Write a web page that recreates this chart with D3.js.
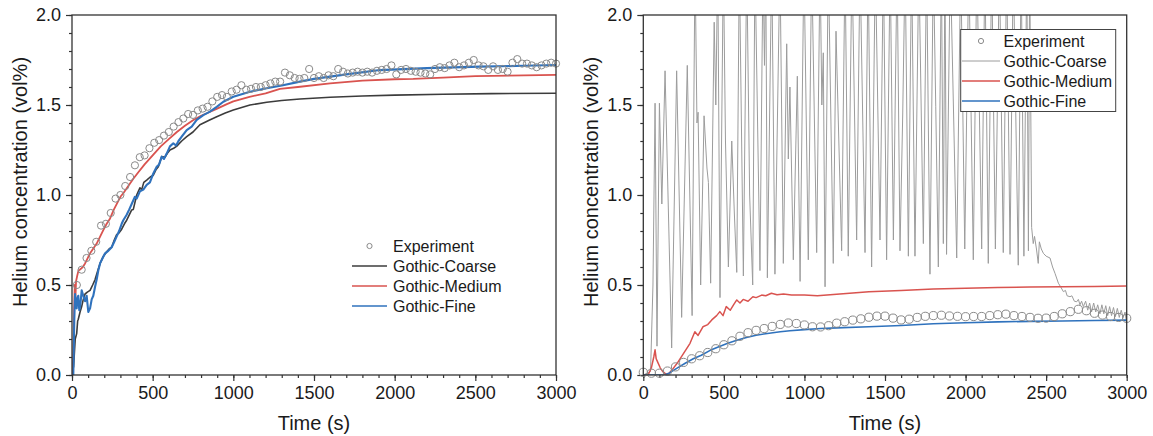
<!DOCTYPE html>
<html><head><meta charset="utf-8">
<script src="https://cdn.jsdelivr.net/npm/d3@7"></script>
<style>
body{margin:0;background:#fff}
svg text{font-family:"Liberation Sans",Arial,Helvetica,sans-serif;fill:#1a1a1a}
</style>
</head><body>
<svg id="chart" width="1153" height="436"></svg>
<script>
// ---------- DATA ----------
const xTicks = [0, 500, 1000, 1500, 2000, 2500, 3000];
const yTicks = [0.0, 0.5, 1.0, 1.5, 2.0];
const seriesNames = ["Experiment", "Gothic-Coarse", "Gothic-Medium", "Gothic-Fine"];
const yTitle = "Helium concentration (vol%)";
const xTitle = "Time (s)";

// Left panel
const leftExperiment = [[30,0.50],[60,0.585],[90,0.65],[120,0.69],[150,0.74],[180,0.83],[210,0.84],[240,0.90],[270,0.98],[300,1.00],[330,1.05],[360,1.10],[390,1.165],[420,1.21],[450,1.22],[480,1.26],[510,1.29],[540,1.305],[570,1.33],[600,1.35],[630,1.38],[660,1.405],[690,1.425],[720,1.45],[750,1.445],[780,1.47],[810,1.48],[840,1.49],[870,1.52],[900,1.545],[930,1.555],[960,1.545],[990,1.575],[1020,1.585],[1050,1.61],[1080,1.585],[1110,1.59],[1140,1.60],[1170,1.60],[1200,1.61],[1230,1.62],[1260,1.63],[1290,1.63],[1320,1.68],[1350,1.665],[1380,1.65],[1410,1.645],[1440,1.65],[1470,1.70],[1500,1.65],[1530,1.66],[1560,1.65],[1590,1.665],[1620,1.66],[1650,1.70],[1680,1.685],[1710,1.675],[1740,1.68],[1770,1.685],[1800,1.68],[1830,1.685],[1860,1.68],[1890,1.69],[1920,1.695],[1950,1.70],[1980,1.72],[2010,1.67],[2040,1.695],[2070,1.70],[2100,1.69],[2130,1.685],[2160,1.68],[2190,1.675],[2220,1.67],[2250,1.70],[2280,1.71],[2310,1.705],[2340,1.72],[2370,1.735],[2400,1.71],[2430,1.72],[2460,1.735],[2490,1.75],[2520,1.72],[2550,1.715],[2580,1.695],[2610,1.715],[2640,1.695],[2670,1.70],[2700,1.685],[2730,1.735],[2760,1.755],[2790,1.73],[2820,1.73],[2850,1.72],[2880,1.71],[2910,1.72],[2940,1.73],[2970,1.735],[3000,1.73]];

const leftCoarse = [[0,0],[10,0.05],[20,0.2],[29,0.23],[35,0.3],[39,0.31],[50,0.35],[60,0.38],[70,0.42],[81,0.45],[95,0.46],[112,0.47],[128,0.5],[143,0.53],[160,0.58],[174,0.62],[195,0.66],[215,0.685],[230,0.70],[246,0.71],[262,0.75],[277,0.78],[292,0.79],[308,0.81],[325,0.84],[339,0.86],[355,0.89],[370,0.917],[380,0.92],[401,1.0],[421,1.04],[432,1.03],[445,1.07],[463,1.083],[485,1.10],[504,1.11],[520,1.14],[535,1.157],[556,1.213],[576,1.21],[590,1.23],[607,1.25],[630,1.26],[648,1.27],[680,1.30],[711,1.324],[750,1.35],[793,1.39],[850,1.415],[897,1.435],[950,1.455],[1000,1.472],[1103,1.50],[1207,1.515],[1300,1.525],[1413,1.533],[1600,1.543],[1800,1.55],[2000,1.555],[2300,1.56],[2600,1.563],[3000,1.565]];

const leftMedium = [[0,0],[8,0.1],[13,0.35],[17,0.5],[21,0.42],[25,0.52],[32,0.55],[40,0.58],[48,0.585],[55,0.59],[67,0.60],[81,0.62],[95,0.645],[112,0.676],[130,0.70],[153,0.73],[175,0.77],[194,0.805],[215,0.84],[236,0.87],[260,0.92],[280,0.955],[300,0.99],[318,1.01],[349,1.05],[380,1.09],[410,1.125],[450,1.17],[500,1.22],[550,1.27],[600,1.31],[650,1.35],[700,1.385],[750,1.415],[800,1.44],[850,1.46],[900,1.48],[960,1.505],[1000,1.52],[1100,1.545],[1200,1.565],[1289,1.59],[1400,1.60],[1600,1.62],[1800,1.635],[2000,1.643],[2115,1.645],[2300,1.652],[2500,1.66],[2800,1.665],[3000,1.667]];

const leftFine = [[0,0],[8,0.0],[14,0.3],[19,0.45],[24,0.38],[29,0.37],[34,0.43],[39,0.44],[45,0.36],[50,0.38],[55,0.42],[60,0.47],[70,0.44],[81,0.41],[91,0.44],[101,0.35],[112,0.37],[122,0.42],[132,0.44],[143,0.49],[153,0.53],[163,0.58],[174,0.62],[190,0.65],[205,0.676],[225,0.69],[246,0.71],[262,0.74],[277,0.77],[292,0.80],[308,0.84],[318,0.86],[339,0.89],[355,0.92],[370,0.95],[390,0.99],[401,0.98],[421,1.02],[442,1.03],[463,1.056],[483,1.07],[504,1.12],[525,1.157],[540,1.17],[556,1.213],[570,1.20],[587,1.23],[607,1.27],[628,1.287],[645,1.275],[660,1.30],[680,1.324],[711,1.361],[742,1.38],[773,1.417],[814,1.444],[855,1.463],[897,1.49],[938,1.518],[1000,1.546],[1103,1.574],[1207,1.593],[1300,1.608],[1413,1.63],[1500,1.645],[1700,1.67],[1909,1.694],[2200,1.705],[2529,1.713],[2800,1.718],[3000,1.722]];

// Right panel
const rightExperiment = [[0,0.015],[50,0.01],[100,0.01],[150,0.022],[200,0.045],[250,0.07],[300,0.09],[350,0.107],[400,0.125],[450,0.146],[500,0.168],[550,0.19],[600,0.215],[650,0.235],[700,0.248],[750,0.258],[800,0.27],[850,0.281],[900,0.289],[950,0.286],[1000,0.278],[1050,0.268],[1100,0.267],[1150,0.274],[1200,0.288],[1250,0.296],[1300,0.305],[1350,0.312],[1400,0.321],[1450,0.327],[1500,0.327],[1550,0.316],[1600,0.306],[1650,0.31],[1700,0.32],[1750,0.326],[1800,0.33],[1850,0.332],[1900,0.328],[1950,0.326],[2000,0.324],[2050,0.325],[2100,0.325],[2150,0.33],[2200,0.335],[2250,0.338],[2300,0.33],[2350,0.325],[2400,0.32],[2450,0.315],[2500,0.316],[2550,0.325],[2600,0.34],[2650,0.352],[2700,0.365],[2750,0.357],[2800,0.343],[2850,0.333],[2900,0.325],[2950,0.32],[3000,0.315]];

const rightCoarse = [[0,0],[45,0.02],[60,0.5],[73,1.51],[85,0.16],[100,1.51],[115,0.95],[135,1.69],[176,0.15],[207,1.69],[238,0.32],[273,1.72],[303,0.33],[321,2.3],[333,1.40],[340,1.46],[356,0.50],[377,1.44],[395,1.15],[404,1.07],[418,0.51],[440,1.96],[450,1.5],[462,2.3],[476,0.43],[497,2.3],[510,1.3],[528,0.60],[549,1.30],[565,0.9],[580,0.57],[596,2.3],[621,0.55],[642,2.3],[660,1.0],[679,0.50],[693,2.3],[724,0.58],[743,2.3],[752,1.72],[760,2.3],[770,0.54],[797,2.3],[817,0.56],[848,2.3],[869,0.62],[890,1.84],[900,1.2],[910,1.60],[931,0.64],[956,1.66],[973,0.52],[997,2.3],[1024,0.64],[1045,2.3],[1076,0.68],[1097,2.3],[1108,1.5],[1117,1.79],[1128,0.49],[1148,2.3],[1179,0.62],[1196,1.91],[1231,0.69],[1252,2.3],[1272,0.66],[1295,2.3],[1324,0.75],[1345,2.3],[1376,0.68],[1395,2.3],[1417,0.60],[1440,2.3],[1469,0.75],[1490,2.3],[1510,0.64],[1532,2.3],[1552,0.75],[1575,2.3],[1593,0.69],[1610,1.45],[1625,2.3],[1645,0.66],[1665,2.3],[1686,0.66],[1710,2.3],[1738,0.73],[1758,2.3],[1779,0.56],[1800,2.3],[1815,1.49],[1831,0.60],[1850,2.3],[1862,0.73],[1872,2.3],[1882,0.67],[1905,2.3],[1945,0.65],[1970,2.3],[1995,0.70],[2020,2.3],[2048,0.64],[2070,2.3],[2100,0.70],[2120,2.3],[2141,0.62],[2162,2.3],[2185,0.70],[2210,2.3],[2234,0.68],[2255,2.3],[2276,0.67],[2296,2.3],[2327,0.61],[2345,2.3],[2362,0.66],[2380,2.3],[2390,0.69],[2398,2.3],[2410,0.82],[2420,0.73],[2428,0.77],[2440,0.70],[2451,0.62],[2458,0.74],[2470,0.70],[2483,0.676],[2500,0.66],[2524,0.65],[2540,0.60],[2555,0.565],[2576,0.51],[2590,0.49],[2607,0.463],[2620,0.47],[2630,0.44],[2648,0.435],[2660,0.44],[2675,0.41],[2690,0.407],[2700,0.42],[2710,0.39],[2720,0.41],[2731,0.38],[2745,0.41],[2758,0.36],[2770,0.40],[2782,0.35],[2795,0.40],[2808,0.35],[2820,0.39],[2834,0.34],[2846,0.39],[2858,0.34],[2870,0.385],[2882,0.33],[2894,0.38],[2906,0.33],[2918,0.375],[2930,0.325],[2942,0.37],[2954,0.32],[2966,0.36],[2978,0.32],[2990,0.35],[3000,0.278]];

const rightMedium = [[0,0],[30,0.0],[50,0.04],[65,0.10],[73,0.14],[80,0.09],[90,0.07],[105,0.04],[120,0.02],[140,0.005],[160,0.01],[180,0.03],[210,0.065],[250,0.12],[290,0.176],[320,0.24],[340,0.22],[370,0.268],[400,0.28],[425,0.306],[455,0.33],[475,0.352],[495,0.33],[515,0.38],[540,0.36],[560,0.39],[580,0.417],[600,0.40],[620,0.42],[650,0.41],[680,0.435],[700,0.43],[735,0.444],[760,0.44],[795,0.454],[830,0.446],[870,0.45],[920,0.445],[1000,0.444],[1080,0.44],[1200,0.448],[1400,0.462],[1600,0.47],[1800,0.478],[2000,0.482],[2200,0.486],[2400,0.489],[2600,0.49],[2800,0.492],[3000,0.494]];

const rightFine = [[0,0],[130,0],[160,0.01],[207,0.037],[260,0.065],[310,0.09],[360,0.11],[415,0.137],[465,0.156],[520,0.175],[580,0.193],[640,0.208],[700,0.221],[770,0.231],[850,0.24],[910,0.246],[1000,0.252],[1100,0.258],[1200,0.262],[1400,0.268],[1600,0.275],[1800,0.285],[2000,0.29],[2200,0.295],[2400,0.298],[2600,0.30],[2800,0.303],[3000,0.305]];

// ---------- DRAW ----------
const svg = d3.select("#chart");
const FONT = '"Liberation Sans",Arial,Helvetica,sans-serif';

function drawPanel(cfg) {
  const x = d3.scaleLinear().domain([0, 3000]).range([cfg.x0, cfg.x1]);
  const y = d3.scaleLinear().domain([0, 2]).range([cfg.y1, cfg.y0]);
  const g = svg.append("g");
  const clipId = "clip" + cfg.id;
  svg.append("clipPath").attr("id", clipId).append("rect")
    .attr("x", cfg.x0).attr("y", cfg.y0).attr("width", cfg.x1 - cfg.x0).attr("height", cfg.y1 - cfg.y0);

  // minor ticks
  const xm = g.append("g").attr("transform", `translate(0,${cfg.y1})`)
    .call(d3.axisBottom(x).tickValues(d3.range(0, 3001, 100)).tickSize(3).tickFormat(""));
  const ym = g.append("g").attr("transform", `translate(${cfg.x0},0)`)
    .call(d3.axisLeft(y).tickValues(d3.range(0, 2.001, 0.1)).tickSize(3).tickFormat(""));
  // major ticks
  const xa = g.append("g").attr("transform", `translate(0,${cfg.y1})`)
    .call(d3.axisBottom(x).tickValues(xTicks).tickSize(6).tickPadding(5).tickFormat(d3.format("d")));
  const ya = g.append("g").attr("transform", `translate(${cfg.x0},0)`)
    .call(d3.axisLeft(y).tickValues(yTicks).tickSize(6).tickPadding(5).tickFormat(d3.format(".1f")));
  [xm, ym, xa, ya].forEach(a => {
    a.select(".domain").remove();
    a.selectAll("line").attr("stroke", "#333").attr("stroke-width", 1.2);
    a.selectAll("text").attr("font-size", 18).attr("font-family", FONT).attr("fill", "#1a1a1a");
  });

  const line = d3.line().x(d => x(d[0])).y(d => y(d[1]));
  const plot = g.append("g").attr("clip-path", `url(#${clipId})`);

  // experiment circles
  g.append("g").selectAll("circle").data(cfg.exp).join("circle")
    .attr("cx", d => x(d[0])).attr("cy", d => y(d[1])).attr("r", cfg.r)
    .attr("fill", "none").attr("stroke", "#8a8a8a").attr("stroke-width", 1);

  plot.append("path").datum(cfg.coarse).attr("d", line).attr("fill", "none")
    .attr("stroke", cfg.coarseColor).attr("stroke-width", cfg.coarseWidth).attr("stroke-linejoin", "round");
  plot.append("path").datum(cfg.medium).attr("d", line).attr("fill", "none")
    .attr("stroke", "#d9534f").attr("stroke-width", cfg.lineWidth).attr("stroke-linejoin", "round");
  plot.append("path").datum(cfg.fine).attr("d", line).attr("fill", "none")
    .attr("stroke", "#2f72bd").attr("stroke-width", cfg.fineWidth).attr("stroke-linejoin", "round");

  // frame
  g.append("rect").attr("x", cfg.x0).attr("y", cfg.y0)
    .attr("width", cfg.x1 - cfg.x0).attr("height", cfg.y1 - cfg.y0)
    .attr("fill", "none").attr("stroke", "#333").attr("stroke-width", 1.3);

  // titles
  g.append("text").attr("x", (cfg.x0 + cfg.x1) / 2).attr("y", 429.5)
    .attr("text-anchor", "middle").attr("font-size", 20).text(xTitle);
  g.append("text").attr("transform", `translate(${cfg.x0 - 45.5},182) rotate(-90)`)
    .attr("text-anchor", "middle").attr("font-size", 20).text(yTitle);

  // legend
  const L = cfg.legend;
  const lg = g.append("g");
  if (L.box) {
    lg.append("rect").attr("x", L.box[0]).attr("y", L.box[1]).attr("width", L.box[2]).attr("height", L.box[3])
      .attr("fill", "#fff").attr("stroke", "#444").attr("stroke-width", 1);
  }
  const colors = ["#8a8a8a", cfg.coarseColor, "#d9534f", "#2f72bd"];
  seriesNames.forEach((name, i) => {
    const by = L.y + i * 20;
    if (i === 0) {
      lg.append("circle").attr("cx", (L.lx0 + L.lx1) / 2).attr("cy", by - 5.5).attr("r", 2.6)
        .attr("fill", "none").attr("stroke", "#8a8a8a").attr("stroke-width", 1);
    } else {
      lg.append("line").attr("x1", L.lx0).attr("x2", L.lx1).attr("y1", by - 5.5).attr("y2", by - 5.5)
        .attr("stroke", colors[i]).attr("stroke-width", i === 1 ? cfg.coarseWidth : 1.5);
    }
    lg.append("text").attr("x", L.tx).attr("y", by).attr("font-size", 16).text(name);
  });
}

drawPanel({
  id: "L", x0: 72, x1: 556, y0: 15, y1: 375, r: 3.6,
  exp: leftExperiment, coarse: leftCoarse, medium: leftMedium, fine: leftFine,
  coarseColor: "#3c3c3c", coarseWidth: 1.6, lineWidth: 1.8, fineWidth: 2.1,
  legend: { y: 251.5, lx0: 352, lx1: 387, tx: 393, box: null }
});
drawPanel({
  id: "R", x0: 643.3, x1: 1126.7, y0: 15, y1: 375, r: 4.1,
  exp: rightExperiment, coarse: rightCoarse, medium: rightMedium, fine: rightFine,
  coarseColor: "#9c9c9c", coarseWidth: 1, lineWidth: 1.5, fineWidth: 1.6,
  legend: { y: 46.5, lx0: 962, lx1: 1000, tx: 1003.5, box: [960.7, 29.5, 155, 82] }
});
</script>
</body></html>
